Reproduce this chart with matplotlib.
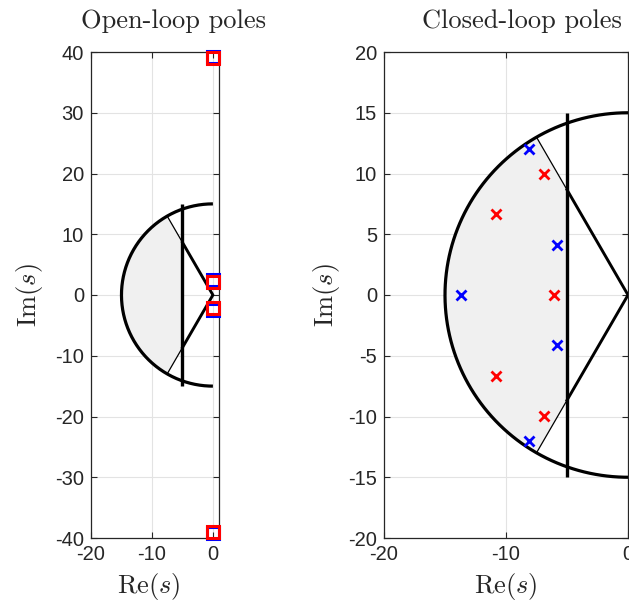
import numpy as np
import matplotlib
matplotlib.use("Agg")
import matplotlib.pyplot as plt
from matplotlib.patches import Polygon

plt.rcParams["mathtext.fontset"] = "cm"
plt.rcParams["axes.unicode_minus"] = False
plt.rcParams["font.family"] = ["Liberation Sans", "DejaVu Sans"]

# Design region: |s| <= r_max, Re(s) <= sigma_max, damping angle <= theta_deg
r_max = 15.0
sigma_max = -5.0
theta_deg = 60.0

# Open-loop poles (two models)
ol_blue_re = [0.0, 0.0, 0.0, 0.0]
ol_blue_im = [39.15, 2.45, -2.45, -39.15]
ol_red_re = [0.0, 0.0, 0.0, 0.0]
ol_red_im = [39.0, 2.1, -2.1, -39.0]

# Closed-loop poles (two models)
cl_blue_re = [-8.1, -5.85, -13.65, -5.85, -8.1]
cl_blue_im = [12.0, 4.1, 0.0, -4.1, -12.0]
cl_red_re = [-6.85, -10.85, -6.05, -10.85, -6.85]
cl_red_im = [9.95, 6.7, 0.0, -6.7, -9.95]

left_xticks = [-20, -10, 0]
left_yticks = [-40, -30, -20, -10, 0, 10, 20, 30, 40]
right_xticks = [-20, -10, 0]
right_yticks = [-20, -15, -10, -5, 0, 5, 10, 15, 20]

W, H = 629, 606
fig = plt.figure(figsize=(W / 100, H / 100), dpi=100)


def px_axes(x0, x1, y0, y1):
    return fig.add_axes([x0 / W, 1 - y1 / H, (x1 - x0) / W, (y1 - y0) / H])


ax1 = px_axes(91, 219, 52, 538)
ax2 = px_axes(384, 628, 52, 538)

th = np.deg2rad(theta_deg)
tan_t = np.tan(th)


def draw_region(ax):
    # shaded admissible region
    y_sig = -sigma_max * tan_t
    corner = (-r_max * np.cos(th), r_max * np.sin(th))
    ang = np.linspace(np.pi - th, np.pi + th, 200)
    pts = [(sigma_max, y_sig), corner]
    pts += list(zip(r_max * np.cos(ang), r_max * np.sin(ang)))
    pts += [(corner[0], -corner[1]), (sigma_max, -y_sig)]
    ax.add_patch(Polygon(pts, closed=True, facecolor="#f0f0f0",
                         edgecolor="black", lw=0.9, zorder=2))
    # radius bound
    a = np.linspace(np.pi / 2, 3 * np.pi / 2, 300)
    ax.plot(r_max * np.cos(a), r_max * np.sin(a), color="black", lw=2.3,
            zorder=3, solid_capstyle="butt")
    # real-part bound
    ax.plot([sigma_max, sigma_max], [-r_max, r_max], color="black", lw=2.4,
            zorder=3, solid_capstyle="butt")
    # damping cone up to the real-part bound
    ax.plot([sigma_max, 0, sigma_max], [y_sig, 0, -y_sig], color="black",
            lw=2.1, zorder=3)


def style(ax, xlim, ylim, xt, yt):
    ax.set_xlim(*xlim)
    ax.set_ylim(*ylim)
    ax.set_xticks(xt)
    ax.set_yticks(yt)
    ax.set_xticklabels([str(v) for v in xt])
    ax.set_yticklabels([str(v) for v in yt])
    ax.grid(True, color="#e3e3e3", lw=0.8)
    ax.set_axisbelow(True)
    ax.tick_params(direction="in", top=True, right=True, length=4,
                   width=0.8, color="#262626", labelsize=14.5,
                   labelcolor="#262626", pad=5)
    for s in ax.spines.values():
        s.set_color("#262626")
        s.set_linewidth(0.9)


draw_region(ax1)
ax1.plot(ol_blue_re, ol_blue_im, ls="none", marker="s", ms=8, mew=2.2,
         mec="blue", mfc="none", zorder=5, clip_on=False)
ax1.plot(ol_red_re, ol_red_im, ls="none", marker="s", ms=8, mew=2.2,
         mec="red", mfc="none", zorder=6, clip_on=False)
style(ax1, (-20, 1), (-40, 40), left_xticks, left_yticks)

draw_region(ax2)
ax2.plot(cl_blue_re, cl_blue_im, ls="none", marker="x", ms=6.5, mew=2,
         color="blue", zorder=5)
ax2.plot(cl_red_re, cl_red_im, ls="none", marker="x", ms=6.5, mew=2,
         color="red", zorder=5)
style(ax2, (-20, 0), (-20, 20), right_xticks, right_yticks)

title_kw = dict(fontfamily="cmr10", fontsize=19, color="#262626")
ax1.set_title("Open-loop poles", x=0.645, pad=17, **title_kw)
ax2.set_title("Closed-loop poles", x=0.566, pad=17, **title_kw)

lab_kw = dict(fontsize=19, color="#262626")
for ax, xl, yl in ((ax1, 0.45, -0.477), (ax2, 0.5, -0.234)):
    ax.set_xlabel(r"$\mathrm{Re}(s)$", va="center", **lab_kw)
    ax.set_ylabel(r"$\mathrm{Im}(s)$", va="center", **lab_kw)
    ax.xaxis.set_label_coords(xl, -0.1)
    ax.yaxis.set_label_coords(yl, 0.5)

fig.savefig("out.png", dpi=100)
